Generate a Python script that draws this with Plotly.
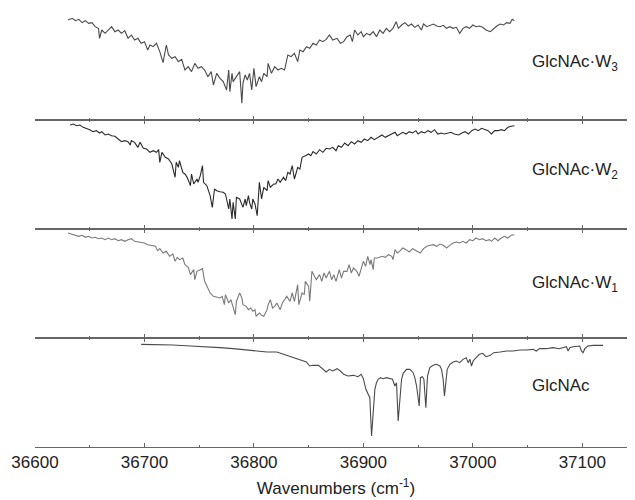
import plotly.graph_objects as go
from plotly.subplots import make_subplots

# ---------------- data ----------------
w3_x = [36630, 36634, 36637, 36640, 36643, 36646, 36649, 36652, 36655, 36658, 36659, 36661, 36664, 36667, 36670,
        36673, 36676, 36679, 36682, 36685, 36688, 36691, 36694, 36697, 36700, 36703, 36705, 36708, 36711, 36714,
        36717, 36720, 36722, 36725, 36728, 36731, 36734, 36737, 36740, 36743, 36746, 36749, 36752, 36755, 36758,
        36761, 36763, 36766, 36769, 36772, 36775, 36777, 36778, 36780, 36781, 36784, 36787, 36789, 36790, 36792,
        36794, 36796, 36798, 36800, 36802, 36805, 36807, 36809, 36812, 36813, 36816, 36819, 36822, 36825, 36828,
        36831, 36834, 36837, 36840, 36842, 36845, 36848, 36851, 36854, 36857, 36860, 36863, 36866, 36869, 36872,
        36876, 36879, 36882, 36885, 36888, 36890, 36892, 36895, 36898, 36900, 36903, 36906, 36909, 36912, 36915,
        36918, 36921, 36924, 36927, 36930, 36932, 36935, 36938, 36941, 36944, 36947, 36950, 36953, 36955, 36958,
        36961, 36964, 36967, 36970, 36973, 36976, 36979, 36982, 36985, 36988, 36991, 36994, 36997, 37000, 37003,
        37006, 37009, 37012, 37016, 37019, 37022, 37025, 37028, 37031, 37034, 37036, 37038]
w3_y = [300, 305, 298, 302, 292, 298, 290, 292, 280, 275, 245, 270, 260, 270, 280,
        265, 270, 260, 268, 245, 255, 240, 245, 230, 235, 210, 225, 220, 230, 205,
        172, 225, 195, 185, 190, 175, 182, 150, 160, 145, 170, 155, 160, 150, 130,
        145, 105, 140, 125, 115, 90, 150, 85, 140, 115, 130, 145, 50, 110, 135,
        120, 140, 90, 155, 100, 130, 115, 140, 130, 170, 140, 160, 150, 155, 150,
        195, 190, 200, 175, 210, 205, 220, 215, 230, 225, 240, 235, 242, 255, 240,
        245, 230, 235, 250, 255, 235, 270, 255, 265, 250, 260, 255, 265, 250, 270,
        260, 275, 265, 275, 295, 275, 285, 292, 282, 288, 278, 285, 270, 288, 280,
        285, 288, 282, 280, 284, 275, 280, 275, 278, 260, 275, 280, 275, 285, 280,
        282, 278, 270, 265, 275, 282, 288, 285, 292, 290, 302, 298]

w2_x = [36632, 36635, 36638, 36641, 36644, 36647, 36650, 36653, 36656, 36659, 36661, 36664, 36667, 36670, 36673,
        36676, 36679, 36682, 36685, 36687, 36688, 36691, 36694, 36696, 36699, 36702, 36705, 36708, 36711, 36713,
        36714, 36716, 36719, 36722, 36725, 36728, 36729, 36731, 36732, 36735, 36737, 36739, 36742, 36743, 36745,
        36748, 36749, 36751, 36753, 36754, 36757, 36760, 36762, 36764, 36766, 36769, 36772, 36774, 36777, 36778,
        36780, 36781, 36783, 36784, 36787, 36790, 36792, 36793, 36795, 36796, 36798, 36799, 36801, 36803, 36805,
        36807, 36809, 36812, 36813, 36815, 36818, 36820, 36822, 36824, 36827, 36829, 36831, 36833, 36835, 36837,
        36840, 36842, 36844, 36847, 36850, 36852, 36854, 36857, 36860, 36863, 36866, 36869, 36872, 36875, 36877,
        36880, 36883, 36886, 36889, 36892, 36895, 36898, 36901, 36904, 36907, 36910, 36913, 36917, 36920, 36923,
        36926, 36929, 36931, 36933, 36936, 36939, 36942, 36945, 36948, 36950, 36953, 36956, 36959, 36962, 36965,
        36968, 36971, 36974, 36977, 36980, 36983, 36987, 36990, 36993, 36996, 36999, 37002, 37005, 37008, 37011,
        37014, 37017, 37020, 37023, 37026, 37029, 37032, 37035, 37038]
w2_y = [312, 315, 310, 312, 305, 302, 298, 292, 295, 288, 292, 282, 285, 280, 278,
        270, 262, 265, 262, 252, 265, 260, 245, 260, 242, 240, 230, 235, 230, 238,
        200, 230, 215, 210, 195, 155, 200, 185, 205, 170, 165, 155, 130, 165, 135,
        150, 140, 160, 190, 140, 130, 100, 65, 120, 115, 112, 110, 105, 60, 90,
        30, 80, 30, 95, 90, 65, 90, 70, 100, 80, 60, 90, 75, 40, 140,
        90, 125, 115, 145, 125, 135, 135, 150, 140, 155, 145, 170, 165, 190, 150,
        185, 180, 215, 220, 225, 220, 232, 225, 238, 230, 242, 240, 245, 235, 250,
        245, 258, 250, 262, 255, 265, 260, 270, 265, 275, 268, 275, 282, 275, 280,
        285, 290, 280, 285, 290, 285, 292, 288, 295, 285, 292, 288, 295, 290, 298,
        285, 288, 285, 288, 290, 285, 282, 288, 292, 285, 295, 300, 295, 302, 298,
        295, 285, 295, 295, 298, 295, 305, 308, 310]

w1_x = [36630, 36633, 36637, 36640, 36643, 36646, 36649, 36652, 36655, 36658, 36661, 36664, 36667, 36670, 36673,
        36676, 36679, 36682, 36685, 36688, 36691, 36694, 36697, 36700, 36703, 36707, 36710, 36712, 36714, 36717,
        36720, 36723, 36726, 36728, 36730, 36732, 36735, 36737, 36740, 36742, 36745, 36746, 36748, 36751, 36753,
        36755, 36757, 36760, 36763, 36766, 36769, 36771, 36773, 36774, 36777, 36779, 36781, 36783, 36784, 36787,
        36789, 36790, 36793, 36795, 36797, 36799, 36801, 36802, 36805, 36807, 36809, 36812, 36813, 36815, 36817,
        36819, 36821, 36824, 36826, 36828, 36830, 36833, 36835, 36837, 36840, 36841, 36844, 36846, 36847, 36850,
        36851, 36853, 36855, 36857, 36860, 36862, 36864, 36866, 36869, 36871, 36873, 36875, 36878, 36880, 36882,
        36885, 36887, 36889, 36891, 36894, 36896, 36898, 36900, 36902, 36904, 36906, 36907, 36909, 36910, 36913,
        36917, 36920, 36923, 36926, 36927, 36929, 36931, 36933, 36936, 36939, 36942, 36945, 36948, 36952, 36955,
        36958, 36961, 36964, 36967, 36970, 36973, 36976, 36979, 36982, 36985, 36988, 36991, 36994, 36997, 37000,
        37003, 37006, 37009, 37012, 37015, 37017, 37020, 37023, 37026, 37029, 37032, 37035, 37038]
w1_y = [315, 312, 310, 305, 308, 302, 305, 300, 302, 298, 300, 295, 300, 295, 298,
        292, 295, 290, 295, 298, 290, 288, 285, 285, 280, 278, 275, 262, 268, 255,
        260, 245, 252, 230, 242, 235, 240, 220, 212, 190, 205, 175, 200, 205, 208,
        170, 155, 135, 125, 122, 120, 125, 100, 130, 105, 115, 95, 70, 110, 135,
        120, 100, 95, 85, 90, 80, 85, 65, 75, 68, 65, 85, 100, 115, 90,
        95, 105, 85, 105, 115, 125, 110, 135, 110, 160, 100, 135, 130, 170, 155,
        110, 200, 185, 175, 190, 170, 195, 180, 200, 175, 190, 170, 205, 180, 200,
        200, 220, 195, 210, 200, 185, 210, 230, 215, 245, 220, 235, 205, 240, 240,
        245, 242, 250, 245, 235, 265, 255, 260, 270, 265, 258, 268, 262, 255, 268,
        275, 278, 280, 275, 282, 278, 270, 278, 285, 288, 285, 290, 285, 295, 292,
        300, 295, 298, 292, 295, 290, 300, 292, 300, 305, 300, 308, 310]

g_x = [36697, 36711, 36726, 36742, 36757, 36769, 36781, 36793, 36802, 36812, 36821, 36830, 36839, 36848, 36851,
       36854, 36859, 36863, 36866, 36869, 36872, 36876, 36879, 36882, 36886, 36891, 36895, 36898, 36900, 36902.3,
       36904.4, 36905.9, 36907.5, 36909, 36910.5, 36912, 36913.5, 36915.7, 36918, 36921, 36924, 36926.6, 36928.8, 36930.3, 36931.8,
       36933.3, 36934.9, 36936.4, 36939.4, 36942.5, 36945.5, 36947, 36948.6, 36951, 36952.2, 36954, 36955.3, 36957.1, 36958.6, 36960.7,
       36963.8, 36966.8, 36969.9, 36971.4, 36972.9, 36974.1, 36975.3, 36976.6, 36979, 36982, 36985, 36988, 36991, 36994, 36995.7,
       36997.3, 36998.8, 37000.3, 37003, 37006, 37009, 37012, 37016, 37019, 37025, 37031, 37037, 37043, 37049, 37055,
       37058, 37061, 37067, 37073, 37079, 37085.5, 37087.1, 37088.6, 37091.6, 37097.7, 37099.2, 37100.7, 37102.3, 37105, 37110,
       37119]
g_y = [308, 308, 306, 303, 301, 298, 295, 291, 288, 285, 285, 275, 265, 255, 243,
       245, 245, 235, 225, 233, 228, 235, 228, 218, 213, 215, 211, 218, 205, 173,
       158, 148, 33, 103, 173, 193, 203, 208, 205, 208, 205, 203, 183, 193, 78,
       138, 203, 221, 233, 233, 223, 208, 183, 123, 208, 211, 203, 118, 213, 238,
       245, 248, 243, 233, 203, 153, 203, 233, 248, 255, 258, 253, 263, 268, 253,
       263, 243, 258, 268, 278, 281, 271, 275, 283, 285, 288, 288, 291, 291, 293,
       288, 295, 295, 298, 295, 301, 288, 298, 301, 303, 288, 283, 295, 303, 305,
       305]

labels = ["GlcNAc·W<sub>3</sub>", "GlcNAc·W<sub>2</sub>", "GlcNAc·W<sub>1</sub>", "GlcNAc"]
label_y = [171, 174, 162, 186]
series_x = [w3_x, w2_x, w1_x, g_x]
series_y = [w3_y, w2_y, w1_y, g_y]
colors = ["#4a4a4a", "#2a2a2a", "#7a7a7a", "#4a4a4a"]

x_range = [36600, 37150]
tick_vals = [36600, 36700, 36800, 36900, 37000, 37100]

# ---------------- figure ----------------
fig = make_subplots(rows=4, cols=1, vertical_spacing=0)
FONT = "Liberation Sans, Arial, sans-serif"
AXC = "#666"

for i in range(4):
    r = i + 1
    fig.add_trace(go.Scatter(x=series_x[i], y=series_y[i], mode="lines",
                             line=dict(color=colors[i], width=1.1),
                             showlegend=False, hoverinfo="skip"), row=r, col=1)
    fig.update_xaxes(range=x_range, showline=True, linecolor=AXC, linewidth=0.9,
                     ticks="inside", ticklen=4, tickcolor=AXC, tickwidth=1,
                     tickvals=tick_vals, tickformat="d", showgrid=False, zeroline=False,
                     automargin=False,
                     mirror=False if i == 0 else "ticks",
                     minor=dict(ticks="inside", ticklen=2.5, dtick=50, tick0=36600,
                                tickcolor=AXC, showgrid=False),
                     showticklabels=(i == 3), row=r, col=1)
    fig.update_yaxes(range=[0, 327], visible=False, automargin=False, row=r, col=1)
    yref = "y" if i == 0 else f"y{r}"
    xref = "x" if i == 0 else f"x{r}"
    fig.add_annotation(x=37052, y=label_y[i], xref=xref, yref=yref, text=labels[i],
                       showarrow=False, xanchor="left", yanchor="middle",
                       font=dict(family=FONT, size=17, color="#222"))

fig.update_xaxes(title=dict(text="Wavenumbers (cm<sup>-1</sup>)", standoff=10,
                            font=dict(family=FONT, size=17, color="#222")),
                 ticklabelstandoff=0,
                 tickfont=dict(family=FONT, size=17, color="#222"), row=4, col=1)

fig.update_layout(width=635, height=500, margin=dict(l=27, r=6, t=3, b=61),
                  paper_bgcolor="white", plot_bgcolor="white",
                  font=dict(family=FONT, color="#222"))

fig.write_html("out.html")
